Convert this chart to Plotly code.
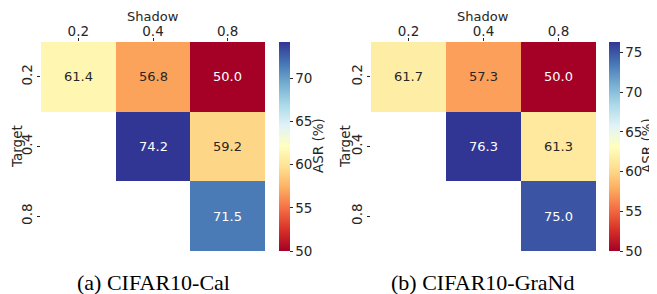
import plotly.graph_objects as go

shadow = ["0.2", "0.4", "0.8"]
target = ["0.2", "0.4", "0.8"]
asr_cal = [[61.4, 56.8, 50.0], [None, 74.2, 59.2], [None, None, 71.5]]
asr_grand = [[61.7, 57.3, 50.0], [None, 76.3, 61.3], [None, None, 75.0]]
captions = ["(a) CIFAR10-Cal", "(b) CIFAR10-GraNd"]
cb_ticks_cal = [50, 55, 60, 65, 70]
cb_ticks_grand = [50, 55, 60, 65, 70, 75]

# The page body has an 8px margin, so the figure is drawn 8px in from the window edge.
OFF = 8
W, H = 657 - OFF, 294 - OFF
FONT = "DejaVu Sans"
DARK = "#262626"

def px(v):
    return (v - OFF) / W

def py(v):
    return 1 - (v - OFF) / H

panels = [
    dict(z=asr_cal, ticks=cb_ticks_cal, x0=41, x1=265, cbx=279, cbt=318, ylab=17,
         cap=captions[0], xa="x", ya="y"),
    dict(z=asr_grand, ticks=cb_ticks_grand, x0=371, x1=596, cbx=609, cbt=647, ylab=345,
         cap=captions[1], xa="x2", ya="y2"),
]
top, bot = 42, 251

fig = go.Figure()
annotations = []
for i, p in enumerate(panels):
    vals = [v for row in p["z"] for v in row if v is not None]
    zmin, zmax = 50.0, max(vals)
    fig.add_trace(go.Heatmap(
        z=p["z"], x=shadow, y=target, colorscale="RdYlBu", zmin=zmin, zmax=zmax,
        xaxis=p["xa"], yaxis=p["ya"], hoverongaps=False, xgap=0, ygap=0,
        colorbar=dict(
            x=px(p["cbx"]), xanchor="left", xref="paper", xpad=0, ypad=0, thickness=11,
            len=(bot - top) / H, lenmode="fraction", y=(py(top) + py(bot)) / 2, yanchor="middle",
            outlinewidth=0, tickvals=p["ticks"], ticks="outside", ticklen=3, tickwidth=1,
            tickcolor=DARK, tickfont=dict(family=FONT, size=13.5, color=DARK),
        ),
    ))
    for r, row in enumerate(p["z"]):
        for c, v in enumerate(row):
            if v is None:
                continue
            dark_cell = v < zmin + 0.15 * (zmax - zmin) or v > zmin + 0.75 * (zmax - zmin)
            annotations.append(dict(
                x=c, y=r, xref=p["xa"], yref=p["ya"], text=f"{v:.1f}",
                showarrow=False, font=dict(family=FONT, size=13, color="white" if dark_cell else DARK),
            ))
    label_font = dict(family=FONT, size=13.5, color=DARK)
    annotations.append(dict(
        x=(px(p["x0"]) + px(p["x1"])) / 2, y=py(16.5), xref="paper", yref="paper",
        text="Shadow", showarrow=False, xanchor="center", yanchor="middle",
        font=dict(family=FONT, size=13, color=DARK),
    ))
    annotations.append(dict(
        x=px(p["ylab"]), y=py(147), xref="paper", yref="paper", textangle=-90,
        text="Target", showarrow=False, xanchor="center", yanchor="middle", font=label_font,
    ))
    annotations.append(dict(
        x=px(p["cbt"]), y=py(146), xref="paper", yref="paper", textangle=-90,
        text="ASR (%)", showarrow=False, xanchor="center", yanchor="middle", font=label_font,
    ))
    annotations.append(dict(
        x=(px(p["x0"]) + px(p["x1"])) / 2, y=py(282), xref="paper", yref="paper",
        text=p["cap"], showarrow=False, xanchor="center", yanchor="middle",
        font=dict(family="Liberation Serif", size=22, color="black"),
    ))

axis_common = dict(
    type="category", ticks="outside", ticklen=3, tickwidth=1, tickcolor=DARK,
    tickfont=dict(family=FONT, size=13.5, color=DARK), showgrid=False, zeroline=False,
    showline=False, automargin=False,
)

layout = dict(
    width=W, height=H, margin=dict(l=0, r=0, t=0, b=0, autoexpand=False),
    paper_bgcolor="white", plot_bgcolor="white",
    annotations=annotations,
)
for i, p in enumerate(panels):
    sfx = "" if i == 0 else str(i + 1)
    layout["xaxis" + sfx] = dict(
        axis_common, domain=[px(p["x0"]), px(p["x1"])], side="top",
        anchor="y" + sfx, ticklabelstandoff=-3,
    )
    layout["yaxis" + sfx] = dict(
        axis_common, domain=[py(bot), py(top)], autorange="reversed", tickangle=-90,
        anchor="x" + sfx,
    )

fig.update_layout(**layout)
fig.write_html("out.html")
